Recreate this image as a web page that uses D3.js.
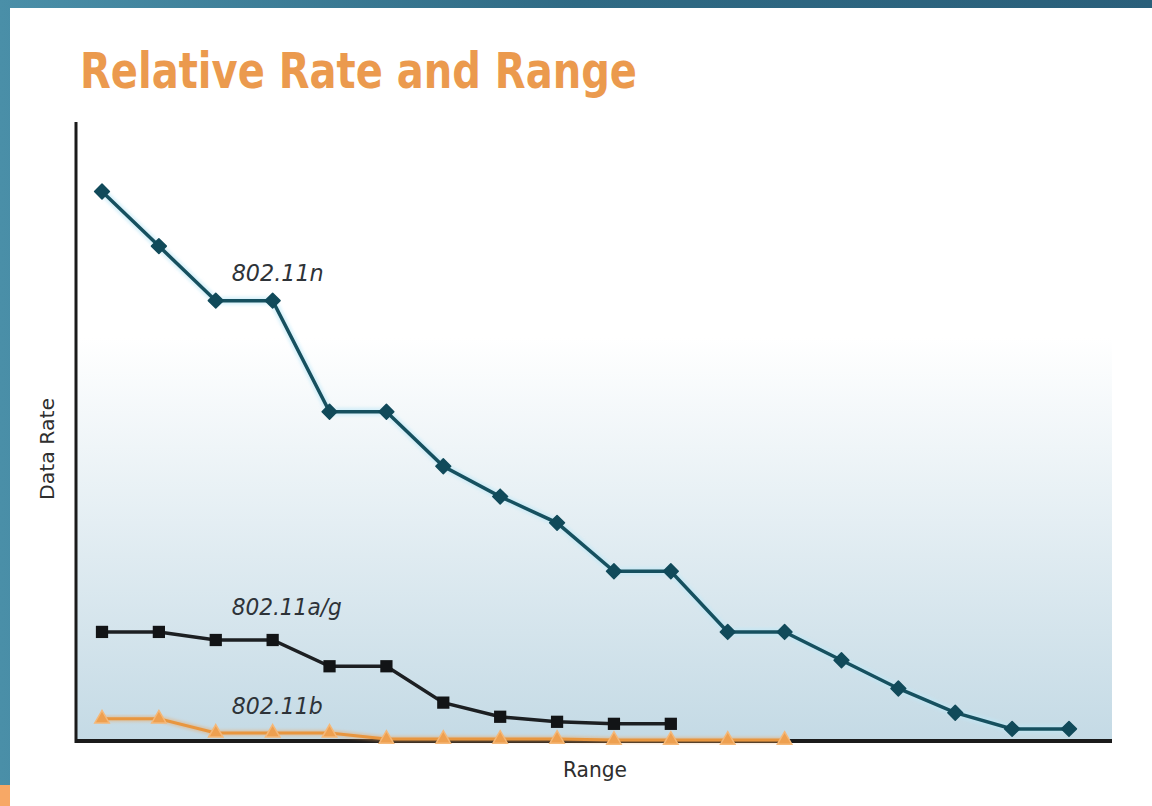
<!DOCTYPE html>
<html>
<head>
<meta charset="utf-8">
<script src="https://cdn.jsdelivr.net/npm/d3@7"></script>
<style>
  body { margin: 0; background: #3f7f99; }
  svg { display: block; }
  .narrow { font-family: "Liberation Sans Narrow", "DejaVu Sans Condensed", "Roboto", sans-serif; }
</style>
</head>
<body>
<svg id="chart" width="1152" height="806"></svg>
<script>
// range steps (x index) and data rate readings (Mbps)
const rangeSteps = d3.range(18);
const rateN = [272, 245, 218, 218, 163, 163, 136, 121, 108, 84, 84, 54, 54, 40, 26, 14, 6, 6];
const rateAG = [54, 54, 50, 50, 37, 37, 19, 12, 9.5, 8.5, 8.5];
const rateB = [11, 11, 4, 4, 4, 1, 1, 1, 1, 0.5, 0.5, 0.5, 0.5];

const titleText = "Relative Rate and Range";
const xLabel = "Range";
const yLabel = "Data Rate";

const svg = d3.select("#chart");
const width = +svg.attr("width");
const height = +svg.attr("height");

const plot = { left: 76, right: 1112, top: 122, bottom: 741 };

// x scale: one step per range point
const xScale = d3.scaleLinear().domain([0, 17]).range([102, 1069]);
// y scale
const yScale = d3.scaleLinear().domain([0, 300]).range([plot.bottom, 135]);

const defs = svg.append("defs");

// frame gradient
const frameGrad = defs.append("linearGradient").attr("id", "frame").attr("x1", 0).attr("x2", 1);
frameGrad.append("stop").attr("offset", 0).attr("stop-color", "#4a8fa8");
frameGrad.append("stop").attr("offset", 0.5).attr("stop-color", "#2f6a84");
frameGrad.append("stop").attr("offset", 1).attr("stop-color", "#2a5f7a");

// plot background gradient
const bgGrad = defs.append("linearGradient").attr("id", "plotbg").attr("x1", 0).attr("x2", 0).attr("y1", 0).attr("y2", 1);
bgGrad.append("stop").attr("offset", 0).attr("stop-color", "#ffffff");
bgGrad.append("stop").attr("offset", 1).attr("stop-color", "#c4dae5");

const glow = defs.append("filter").attr("id", "glow").attr("x", "-20%").attr("y", "-20%").attr("width", "140%").attr("height", "140%");
glow.append("feGaussianBlur").attr("stdDeviation", 1.6);

// outer frame
svg.append("rect").attr("width", width).attr("height", height).attr("fill", "url(#frame)");
svg.append("rect").attr("x", 0).attr("y", 785).attr("width", 10).attr("height", 21).attr("fill", "#f7a866");
svg.append("rect").attr("x", 10).attr("y", 8).attr("width", width - 10).attr("height", height - 8).attr("fill", "#ffffff");

// plot background
svg.append("rect")
  .attr("x", plot.left)
  .attr("y", 338)
  .attr("width", plot.right - plot.left)
  .attr("height", plot.bottom - 338)
  .attr("fill", "url(#plotbg)");

// title
svg.append("text")
  .attr("class", "narrow")
  .attr("x", 80)
  .attr("y", 88)
  .attr("font-size", 50)
  .attr("font-weight", "bold")
  .attr("fill", "#eb9a4e")
  .attr("textLength", 557)
  .attr("lengthAdjust", "spacingAndGlyphs")
  .text(titleText);

// axes
const g = svg.append("g");

const xAxis = d3.axisBottom(xScale).tickValues([]).tickSizeOuter(0);
const yAxis = d3.axisLeft(yScale).tickValues([]).tickSizeOuter(0);

g.append("g")
  .attr("transform", `translate(0,${plot.bottom})`)
  .call(xAxis)
  .call((a) => a.select(".domain")
    .attr("d", `M${plot.left},0H${plot.right}`)
    .attr("stroke", "#1b1b1b")
    .attr("stroke-width", 4));

g.append("g")
  .attr("transform", `translate(${plot.left},0)`)
  .call(yAxis)
  .call((a) => a.select(".domain")
    .attr("d", `M0,${plot.top}V${plot.bottom + 2}`)
    .attr("stroke", "#1b1b1b")
    .attr("stroke-width", 3));

// axis titles
svg.append("text")
  .attr("class", "narrow")
  .attr("transform", `translate(54,${(398 + 500) / 2}) rotate(-90)`)
  .attr("text-anchor", "middle")
  .attr("font-size", 20)
  .attr("fill", "#2e2e2e")
  .attr("textLength", 102)
  .attr("lengthAdjust", "spacingAndGlyphs")
  .text(yLabel);

svg.append("text")
  .attr("class", "narrow")
  .attr("x", 595)
  .attr("y", 777)
  .attr("text-anchor", "middle")
  .attr("font-size", 22)
  .attr("fill", "#2e2e2e")
  .attr("textLength", 64)
  .attr("lengthAdjust", "spacingAndGlyphs")
  .text(xLabel);

const line = d3.line()
  .x((d, i) => xScale(rangeSteps[i]))
  .y((d) => yScale(d));

// 802.11b (orange, triangles)
g.append("path")
  .attr("d", line(rateB))
  .attr("fill", "none")
  .attr("stroke", "#f0a255")
  .attr("stroke-width", 6)
  .attr("opacity", 0.45)
  .attr("filter", "url(#glow)");
g.append("path")
  .attr("d", line(rateB))
  .attr("fill", "none")
  .attr("stroke", "#e8963f")
  .attr("stroke-width", 3);
g.selectAll(".mark-b")
  .data(rateB)
  .enter()
  .append("path")
  .attr("class", "mark-b")
  .attr("transform", (d, i) => `translate(${xScale(rangeSteps[i])},${yScale(d)})`)
  .attr("d", d3.symbol(d3.symbolTriangle, 90))
  .attr("fill", "#eea050")
  .attr("stroke", "#f5b878")
  .attr("stroke-width", 1.5);

// 802.11a/g (black, squares)
g.append("path")
  .attr("d", line(rateAG))
  .attr("fill", "none")
  .attr("stroke", "#1c1f22")
  .attr("stroke-width", 3.5);
g.selectAll(".mark-ag")
  .data(rateAG)
  .enter()
  .append("path")
  .attr("class", "mark-ag")
  .attr("transform", (d, i) => `translate(${xScale(rangeSteps[i])},${yScale(d)})`)
  .attr("d", d3.symbol(d3.symbolSquare, 150))
  .attr("fill", "#121416");

// 802.11n (teal, diamonds)
g.append("path")
  .attr("d", line(rateN))
  .attr("fill", "none")
  .attr("stroke", "#bfe8f7")
  .attr("stroke-width", 8)
  .attr("opacity", 0.6)
  .attr("filter", "url(#glow)");
g.append("path")
  .attr("d", line(rateN))
  .attr("fill", "none")
  .attr("stroke", "#16505f")
  .attr("stroke-width", 3.5);
g.selectAll(".mark-n")
  .data(rateN)
  .enter()
  .append("path")
  .attr("class", "mark-n")
  .attr("transform", (d, i) => `translate(${xScale(rangeSteps[i])},${yScale(d)}) rotate(45)`)
  .attr("d", d3.symbol(d3.symbolSquare, 110))
  .attr("fill", "#114a5a")
  .attr("stroke", "#114a5a")
  .attr("stroke-width", 1.5)
  .attr("stroke-linejoin", "round");

// series labels
const labels = [
  { text: "802.11n", step: 2.28, value: rateN[2], dy: -20, len: 92 },
  { text: "802.11a/g", step: 2.28, value: rateAG[2], dy: -25, len: 110 },
  { text: "802.11b", step: 2.28, value: rateB[2], dy: -19, len: 91 }
];

svg.selectAll(".series-label")
  .data(labels)
  .enter()
  .append("text")
  .attr("class", "series-label narrow")
  .attr("x", (d) => xScale(d.step))
  .attr("y", (d) => yScale(d.value) + d.dy)
  .attr("font-size", 23)
  .attr("font-style", "italic")
  .attr("fill", "#2e3338")
  .attr("textLength", (d) => d.len)
  .attr("lengthAdjust", "spacingAndGlyphs")
  .text((d) => d.text);
</script>
</body>
</html>
